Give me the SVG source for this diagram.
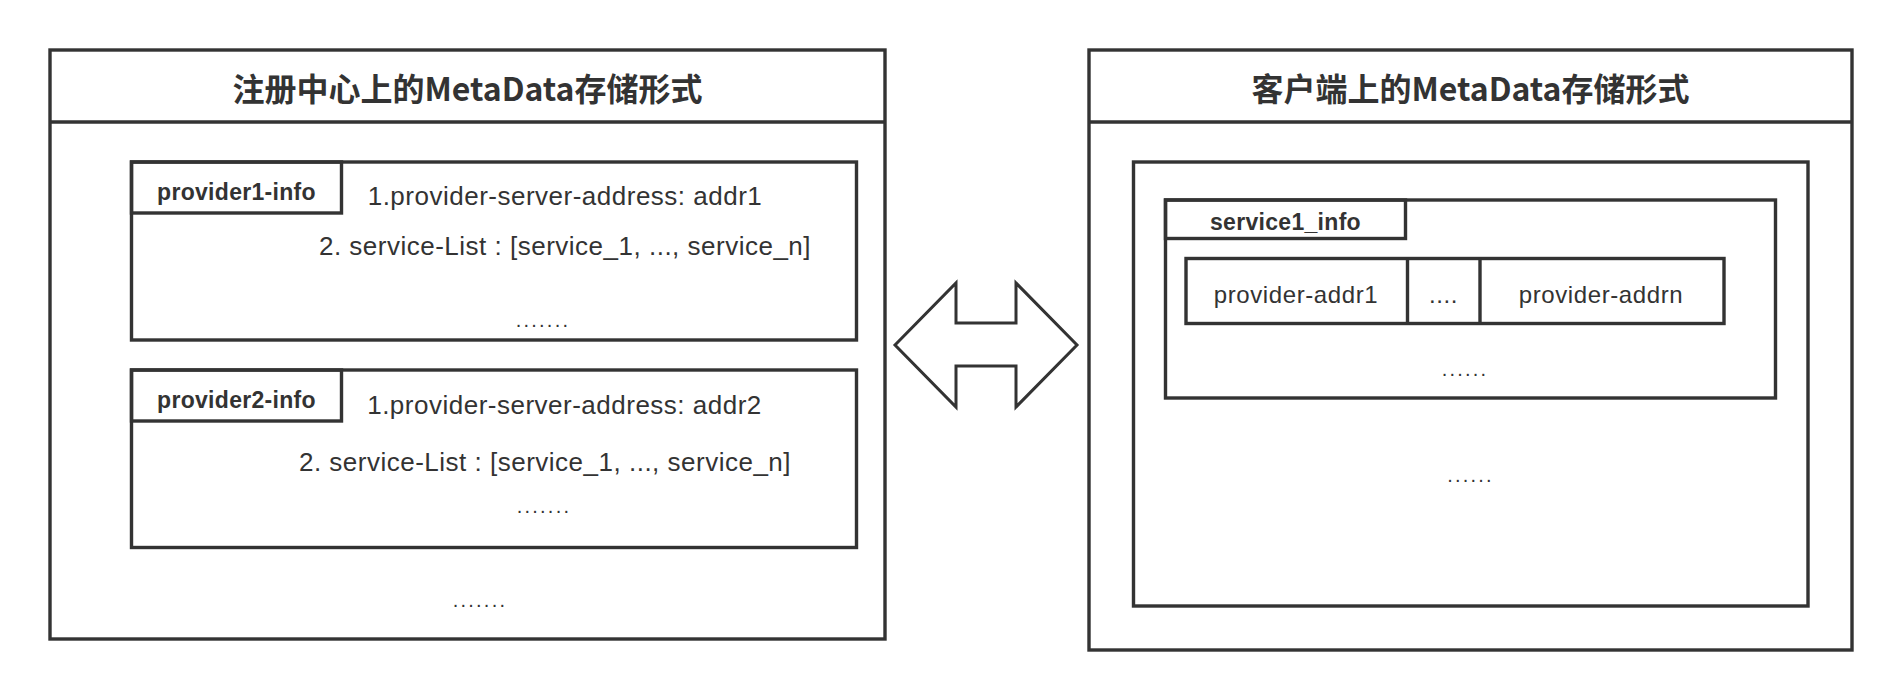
<svg xmlns="http://www.w3.org/2000/svg" width="1902" height="700" viewBox="0 0 1902 700">
<style>
.box{fill:none;stroke:#333333;stroke-width:3.4}
.title{font-family:"Noto Sans CJK SC","Liberation Sans",sans-serif;font-size:32px;font-weight:700;fill:#333333;text-anchor:middle}
.lbl{font-family:"Liberation Sans",Arial,sans-serif;font-size:23px;font-weight:700;fill:#333333;text-anchor:middle;letter-spacing:0.3px}
.txt{font-family:"Liberation Sans",Arial,sans-serif;font-size:26px;fill:#333333;text-anchor:middle;letter-spacing:0.5px}
.cell{font-family:"Liberation Sans",Arial,sans-serif;font-size:24px;fill:#333333;text-anchor:middle;letter-spacing:0.6px}
.dots{font-family:"Liberation Sans",Arial,sans-serif;font-size:20px;fill:#333333;text-anchor:middle;letter-spacing:2.2px}
</style>
<rect width="1902" height="700" fill="#ffffff"/>
<g id="registry">
  <rect class="box" x="50" y="50" width="835" height="589"/>
  <line class="box" x1="50" y1="122" x2="885" y2="122"/>
  <text class="title" x="467.5" y="101">注册中心上的MetaData存储形式</text>
  <text class="dots" x="480" y="607">.......</text>
</g>
<g id="provider1-info">
  <rect class="box" x="131.5" y="162" width="725" height="178"/>
  <rect class="box" x="131.5" y="162" width="210" height="51"/>
  <text class="lbl" x="236.5" y="200">provider1-info</text>
  <text class="txt" x="565" y="205">1.provider-server-address: addr1</text>
  <text class="txt" x="565" y="255">2. service-List : [service_1, ..., service_n]</text>
  <text class="dots" x="543" y="327">.......</text>
</g>
<g id="provider2-info">
  <rect class="box" x="131.5" y="370" width="725" height="177.5"/>
  <rect class="box" x="131.5" y="370" width="210" height="51"/>
  <text class="lbl" x="236.5" y="408">provider2-info</text>
  <text class="txt" x="564.5" y="414">1.provider-server-address: addr2</text>
  <text class="txt" x="545" y="471">2. service-List : [service_1, ..., service_n]</text>
  <text class="dots" x="544" y="513">.......</text>
</g>
<g id="client">
  <rect class="box" x="1089" y="50" width="763" height="600"/>
  <line class="box" x1="1089" y1="122" x2="1852" y2="122"/>
  <text class="title" x="1470.5" y="101">客户端上的MetaData存储形式</text>
  <rect class="box" x="1133.5" y="162" width="674.5" height="444"/>
  <text class="dots" x="1470.5" y="482">......</text>
</g>
<g id="service1_info">
  <rect class="box" x="1165.5" y="200" width="610" height="198"/>
  <rect class="box" x="1165.5" y="200" width="240" height="38.5"/>
  <text class="lbl" x="1285.5" y="230">service1_info</text>
  <text class="dots" x="1465" y="376">......</text>
</g>
<g id="provider-addrs">
  <rect class="box" x="1186" y="258.5" width="538" height="65"/>
  <line class="box" x1="1407.5" y1="258.5" x2="1407.5" y2="323.5"/>
  <line class="box" x1="1480" y1="258.5" x2="1480" y2="323.5"/>
  <text class="cell" x="1296" y="303">provider-addr1</text>
  <text class="cell" x="1443.5" y="303">....</text>
  <text class="cell" x="1601" y="303">provider-addrn</text>
</g>
<g id="connectors">
  <polygon points="895,345 956,283 956,323 1016,323 1016,283 1077,345 1016,407 1016,366 956,366 956,407" fill="#ffffff" stroke="#333333" stroke-width="3"/>
</g>
</svg>
